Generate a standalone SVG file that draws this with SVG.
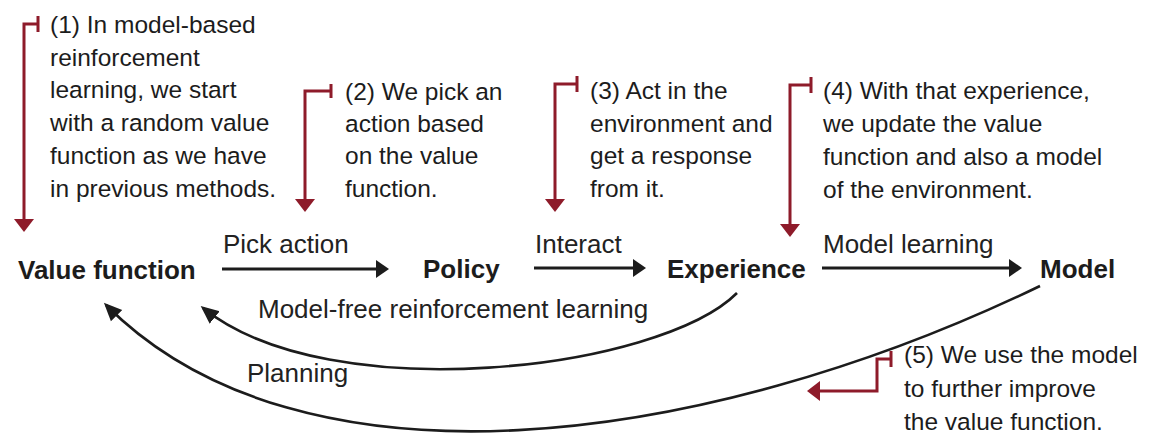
<svg xmlns="http://www.w3.org/2000/svg" width="1152" height="442" viewBox="0 0 1152 442">
<style>
.node{font-family:"Liberation Sans",Arial,sans-serif;font-weight:bold;font-size:26px;fill:#1c1c1c}
.lbl{font-family:"Liberation Sans",Arial,sans-serif;font-size:26px;fill:#222}
.note{font-family:"Liberation Sans",Arial,sans-serif;font-size:24.5px;fill:#1c1c1c}
.red{fill:none;stroke:#8e1b2a;stroke-width:3}
.redhead{fill:#8e1b2a}
.edge{fill:none;stroke:#1c1c1c;stroke-width:3.2}
.curve{fill:none;stroke:#1c1c1c;stroke-width:2.6}
.head{fill:#1c1c1c}
</style>
<defs>
<marker id="ah" markerUnits="userSpaceOnUse" markerWidth="22" markerHeight="22" viewBox="0 0 22 22" refX="15" refY="11" orient="auto">
<path d="M0,3 L18,11 L0,19 Z" fill="#1c1c1c"/>
</marker>
</defs>

<g id="connectors">
<line class="edge" x1="222" y1="269" x2="380" y2="269"/>
<polygon class="head" points="376,260 389,269 376,278"/>
<line class="edge" x1="534" y1="268" x2="636" y2="268"/>
<polygon class="head" points="633,259 646,268 633,277"/>
<line class="edge" x1="822" y1="268" x2="1012" y2="268"/>
<polygon class="head" points="1009,259 1022,268 1009,277"/>
<path class="curve" d="M737,293 C660,370 330,410 203,308" marker-end="url(#ah)"/>
<path class="curve" d="M1040,286 C700,450 300,500 106,305" marker-end="url(#ah)"/>
</g>

<g id="node-value-function"><text class="node" x="18" y="279">Value function</text></g>
<g id="node-policy"><text class="node" x="423" y="278">Policy</text></g>
<g id="node-experience"><text class="node" x="667" y="278">Experience</text></g>
<g id="node-model"><text class="node" x="1040" y="278">Model</text></g>

<g id="edge-labels">
<text class="lbl" x="223" y="253">Pick action</text>
<text class="lbl" x="535" y="253">Interact</text>
<text class="lbl" x="823" y="253">Model learning</text>
<text class="lbl" x="258" y="318">Model-free reinforcement learning</text>
<text class="lbl" x="247" y="382">Planning</text>
</g>

<g id="note-1">
<path class="red" d="M38,16 V32 M38,24 H24 V221"/>
<polygon class="redhead" points="14,219 34,219 24,232"/>
<text class="note" x="50" y="33">(1) In model-based</text>
<text class="note" x="50" y="66">reinforcement</text>
<text class="note" x="50" y="98">learning, we start</text>
<text class="note" x="50" y="131">with a random value</text>
<text class="note" x="50" y="164">function as we have</text>
<text class="note" x="50" y="197">in previous methods.</text>
</g>

<g id="note-2">
<path class="red" d="M331,84 V98 M331,91 H305 V201"/>
<polygon class="redhead" points="295,199 315,199 305,212"/>
<text class="note" x="345" y="100">(2) We pick an</text>
<text class="note" x="345" y="132">action based</text>
<text class="note" x="345" y="164">on the value</text>
<text class="note" x="345" y="197">function.</text>
</g>

<g id="note-3">
<path class="red" d="M577,76 V92 M577,84 H555 V201"/>
<polygon class="redhead" points="545,199 565,199 555,212"/>
<text class="note" x="590" y="99">(3) Act in the</text>
<text class="note" x="590" y="132">environment and</text>
<text class="note" x="590" y="164">get a response</text>
<text class="note" x="590" y="197">from it.</text>
</g>

<g id="note-4">
<path class="red" d="M811,77 V93 M811,85 H790 V226"/>
<polygon class="redhead" points="780,224 800,224 790,237"/>
<text class="note" x="823" y="99">(4) With that experience,</text>
<text class="note" x="823" y="132">we update the value</text>
<text class="note" x="823" y="165">function and also a model</text>
<text class="note" x="823" y="198">of the environment.</text>
</g>

<g id="note-5">
<path class="red" d="M891,351 V367 M891,359 H877 V391 H818"/>
<polygon class="redhead" points="820,381 820,401 807,391"/>
<text class="note" x="904" y="363">(5) We use the model</text>
<text class="note" x="904" y="397">to further improve</text>
<text class="note" x="904" y="430">the value function.</text>
</g>
</svg>
